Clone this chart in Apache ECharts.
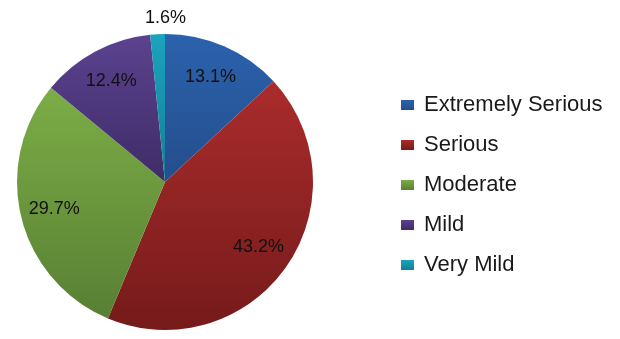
<!DOCTYPE html>
<html><head><meta charset="utf-8">
<script src="https://cdn.jsdelivr.net/npm/echarts@6/dist/echarts.min.js"></script>
<style>html,body{margin:0;padding:0;background:#fff}#c{width:620px;height:339px}</style>
</head><body><div id="c"></div>
<script>
const categories = ['Extremely Serious', 'Serious', 'Moderate', 'Mild', 'Very Mild'];
const values = [13.1, 43.2, 29.7, 12.4, 1.6];
const labels = ['13.1%', '43.2%', '29.7%', '12.4%', '1.6%'];
const topColors = ['#2b62ad', '#aa2c2c', '#7cad46', '#5c4290', '#1ba3bd'];
const bottomColors = ['#244e8c', '#761a1a', '#587f34', '#3e2c66', '#137f96'];
const outerLabelIndex = 4;

const chart = echarts.init(document.getElementById('c'), null, {renderer: 'canvas'});
const grad = i => new echarts.graphic.LinearGradient(0, 0, 0, 1, [
  {offset: 0, color: topColors[i]}, {offset: 1, color: bottomColors[i]}]);
const center = [165, 182];
const font = '"Liberation Sans", Arial, Helvetica, sans-serif';
chart.setOption({
  animation: false,
  legend: {
    orient: 'vertical', left: 396, top: 89, itemWidth: 13, itemHeight: 10, itemGap: 18,
    icon: 'rect',
    textStyle: {fontSize: 22, color: '#1a1a1a', fontFamily: font, padding: [0, 0, 0, 5]},
    data: categories.map((c, i) => ({name: c, itemStyle: {color: grad(i)}}))
  },
  series: [
    {
      type: 'pie', center: center, radius: [0, 148], startAngle: 90, clockwise: true,
      label: {show: false}, labelLine: {show: false}, silent: true,
      itemStyle: {borderWidth: 0},
      data: categories.map((c, i) => ({name: c, value: values[i], itemStyle: {color: grad(i)}}))
    },
    {
      type: 'pie', center: center, radius: [72, 150], startAngle: 90, clockwise: true,
      silent: true, legendHoverLink: false,
      itemStyle: {color: 'rgba(0,0,0,0)', borderWidth: 0},
      label: {show: true, position: 'inside', fontSize: 18, color: '#111', fontFamily: font,
        formatter: p => labels[p.dataIndex]},
      labelLine: {show: false},
      data: categories.map((c, i) => ({name: c + ' ', value: values[i],
        label: {show: i !== outerLabelIndex}}))
    },
    {
      type: 'pie', center: center, radius: [150, 178], startAngle: 90, clockwise: true,
      silent: true, legendHoverLink: false,
      itemStyle: {color: 'rgba(0,0,0,0)', borderWidth: 0},
      label: {show: true, position: 'inside', fontSize: 18, color: '#111', fontFamily: font,
        offset: [9, 3], formatter: p => labels[p.dataIndex]},
      labelLine: {show: false},
      data: categories.map((c, i) => ({name: c + '  ', value: values[i],
        label: {show: i === outerLabelIndex}}))
    }
  ]
});
</script></body></html>
